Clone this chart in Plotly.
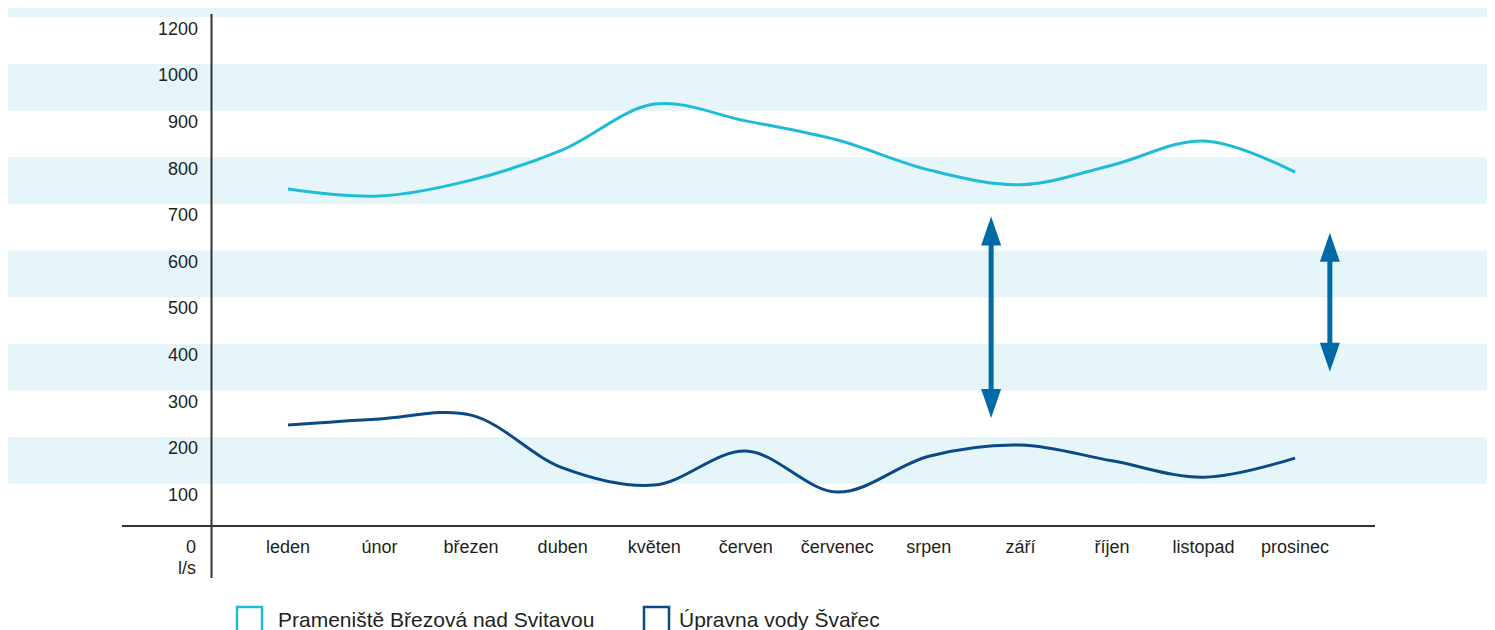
import plotly.graph_objects as go

# ---- data ----
months = ["leden", "únor", "březen", "duben", "květen", "červen",
          "červenec", "srpen", "září", "říjen", "listopad", "prosinec"]
brezova = [732, 717, 751, 816, 914, 878, 837, 773, 741, 783, 835, 768]
svarec = [226, 239, 247, 134, 97, 170, 82, 159, 183, 149, 114, 155]
series_names = ["Prameniště Březová nad Svitavou", "Úpravna vody Švařec"]

y_tickvals = [100, 200, 300, 400, 500, 600, 700, 800, 900, 1000, 1100]
y_ticktext = ["100", "200", "300", "400", "500", "600", "700", "800", "900", "1000", "1200"]
band_starts = [100, 300, 500, 700, 900, 1100]
band_height = 100

# double arrows (month index position, top value, bottom value)
arrow_x = [7.68, 11.38]
arrow_top = [673, 638]
arrow_bottom = [241, 340]

# ---- style ----
W, H = 1495, 630
OFF = 8  # page offset of the figure (body margin)
ML, MR, MT, MB = 203, 128, 0, 112
PLOT_W = W - ML - MR
PLOT_H = H - MT - MB
Y_RANGE = [9.3, 1120.1]
X_RANGE = [-0.841, 11.873]
C_LIGHT = "#1FBCD7"
C_DARK = "#0B4A85"
C_ARROW = "#006AA5"
C_BAND = "#E5F5FA"
C_TEXT = "#231F20"
C_AXIS = "#333333"
FONT = "Liberation Sans, Arial, sans-serif"

px_per_unit = PLOT_H / (Y_RANGE[1] - Y_RANGE[0])


def px_x(p):
    return (p - OFF - ML) / PLOT_W


def px_y(p):
    return (H - MB - (p - OFF)) / PLOT_H


fig = go.Figure()
fig.add_trace(go.Scatter(x=months, y=brezova, mode="lines", name=series_names[0],
                         line=dict(color=C_LIGHT, width=3, shape="spline", smoothing=1.0),
                         showlegend=False))
fig.add_trace(go.Scatter(x=months, y=svarec, mode="lines", name=series_names[1],
                         line=dict(color=C_DARK, width=3, shape="spline", smoothing=1.0),
                         showlegend=False))

shapes = []
for b in band_starts:
    shapes.append(dict(type="rect", xref="paper", yref="y", x0=px_x(OFF), x1=px_x(W + 20),
                       y0=b, y1=b + band_height, fillcolor=C_BAND, line=dict(width=0),
                       layer="below"))
# axis lines
shapes.append(dict(type="line", xref="paper", yref="paper", x0=px_x(122), x1=px_x(1375),
                   y0=0, y1=0, line=dict(color=C_AXIS, width=2)))
shapes.append(dict(type="line", xref="paper", yref="paper", x0=px_x(211.5), x1=px_x(211.5),
                   y0=px_y(14), y1=px_y(578), line=dict(color=C_AXIS, width=2)))

# arrows
head_len, head_half = 29, 10
for ax_, top, bot in zip(arrow_x, arrow_top, arrow_bottom):
    shaft_off = (head_len - 6) / px_per_unit
    shapes.append(dict(type="line", xref="x", yref="y", x0=ax_, x1=ax_,
                       y0=bot + shaft_off, y1=top - shaft_off,
                       line=dict(color=C_ARROW, width=5)))
    shapes.append(dict(type="path", xref="x", yref="y", xsizemode="pixel", ysizemode="pixel",
                       xanchor=ax_, yanchor=top,
                       path=f"M0,0 L{-head_half},{-head_len} L{head_half},{-head_len} Z",
                       fillcolor=C_ARROW, line=dict(width=0)))
    shapes.append(dict(type="path", xref="x", yref="y", xsizemode="pixel", ysizemode="pixel",
                       xanchor=ax_, yanchor=bot,
                       path=f"M0,0 L{-head_half},{head_len} L{head_half},{head_len} Z",
                       fillcolor=C_ARROW, line=dict(width=0)))

# legend squares
legend_sq = [(237, C_LIGHT), (644, C_DARK)]
for x0, c in legend_sq:
    shapes.append(dict(type="rect", xref="paper", yref="paper", x0=px_x(x0), x1=px_x(x0 + 25),
                       y0=px_y(607), y1=px_y(633), line=dict(color=c, width=2.5),
                       fillcolor="rgba(0,0,0,0)"))

annotations = [
    dict(text="0", xref="paper", yref="paper", x=px_x(198), y=px_y(546.5), xanchor="right",
         yanchor="middle", showarrow=False, font=dict(size=18, color=C_TEXT, family=FONT)),
    dict(text="l/s", xref="paper", yref="paper", x=px_x(198), y=px_y(568), xanchor="right",
         yanchor="middle", showarrow=False, font=dict(size=18, color=C_TEXT, family=FONT)),
    dict(text=series_names[0], xref="paper", yref="paper", x=px_x(276), y=px_y(619),
         xanchor="left", yanchor="middle", showarrow=False,
         font=dict(size=21, color=C_TEXT, family=FONT)),
    dict(text=series_names[1], xref="paper", yref="paper", x=px_x(677), y=px_y(619),
         xanchor="left", yanchor="middle", showarrow=False,
         font=dict(size=21, color=C_TEXT, family=FONT)),
]

fig.update_layout(
    width=W, height=H,
    margin=dict(l=ML, r=MR, t=MT, b=MB, pad=0),
    paper_bgcolor="white", plot_bgcolor="rgba(0,0,0,0)",
    font=dict(family=FONT, size=18, color=C_TEXT),
    shapes=shapes, annotations=annotations,
    showlegend=False,
    xaxis=dict(type="category", categoryorder="array", categoryarray=months,
               range=X_RANGE, showgrid=False, zeroline=False, showline=False,
               ticks="", ticklabelstandoff=8, tickfont=dict(size=18, color=C_TEXT)),
    yaxis=dict(range=Y_RANGE, tickmode="array", tickvals=y_tickvals, ticktext=y_ticktext,
               showgrid=False, zeroline=False, showline=False, ticks="",
               ticklabelshift=11, ticklabelstandoff=12,
               tickfont=dict(size=18, color=C_TEXT)),
)

fig.write_html("out.html")
